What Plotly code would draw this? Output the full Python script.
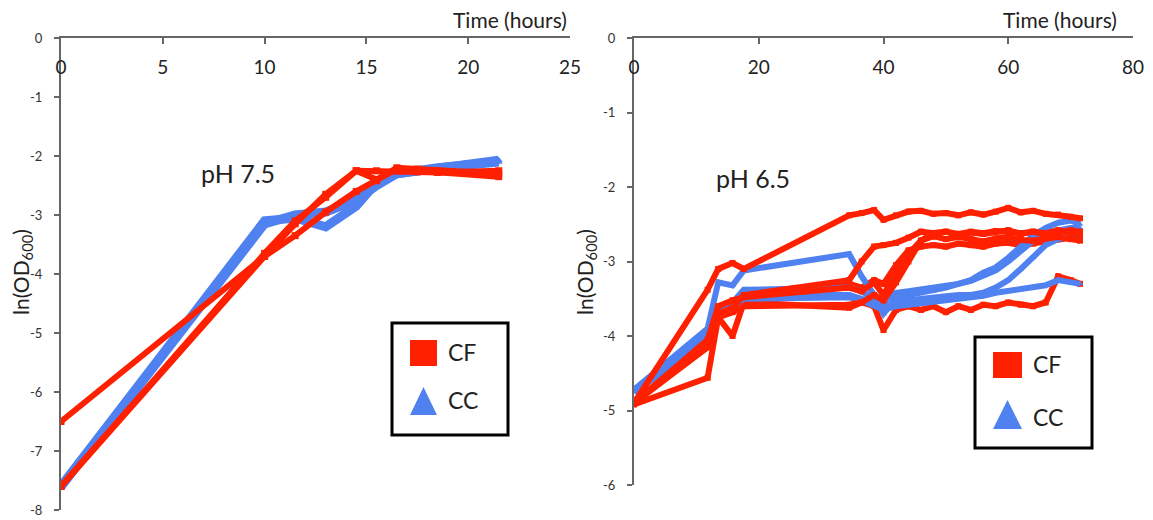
import plotly.graph_objects as go

# ---------------- data: pH 7.5 growth curves ----------------
ph75_hours = [0, 10, 11.5, 13, 14.5, 15.5, 16.5, 17.5, 18.5, 21.5]

ph75_cf_1 = [-6.50, -3.70, -3.15, -2.65, -2.25, -2.40, -2.20, -2.22, -2.25, -2.30]
ph75_cf_2 = [-7.60, -3.70, -3.35, -2.95, -2.60, -2.42, -2.22, -2.25, -2.28, -2.35]
ph75_cf_3 = [-7.60, -3.65, -3.10, -2.70, -2.25, -2.25, -2.25, -2.27, -2.28, -2.25]

ph75_cc_1 = [-7.60, -3.10, -3.05, -3.20, -2.85, -2.45, -2.30, -2.25, -2.20, -2.07]
ph75_cc_2 = [-7.60, -3.15, -3.00, -2.95, -2.75, -2.50, -2.30, -2.25, -2.20, -2.10]

# ---------------- data: pH 6.5 growth curves ----------------
ph65_hours = [0, 11.8, 13.5, 15.8, 17.6, 34.5, 36.5, 38.5, 40, 42, 44, 46, 48,
              50, 52, 54, 56, 58, 60, 62, 64, 66, 68, 70, 71.5]

ph65_cf_1 = [-4.90, -3.38, -3.10, -3.02, -3.10, -2.38, -2.35, -2.31, -2.44, -2.38, -2.33, -2.32, -2.36,
             -2.35, -2.38, -2.34, -2.37, -2.33, -2.28, -2.34, -2.32, -2.36, -2.37, -2.40, -2.42]
ph65_cf_2 = [-4.88, -4.15, -3.70, -3.62, -3.45, -3.25, -3.00, -2.80, -2.78, -2.75, -2.68, -2.60, -2.62,
             -2.60, -2.64, -2.61, -2.63, -2.60, -2.58, -2.63, -2.60, -2.64, -2.61, -2.58, -2.60]
ph65_cf_3 = [-4.90, -4.05, -3.60, -3.52, -3.48, -3.35, -3.40, -3.28, -3.45, -3.15, -2.90, -2.72, -2.66,
             -2.70, -2.67, -2.70, -2.73, -2.69, -2.67, -2.71, -2.72, -2.69, -2.67, -2.70, -2.72]
ph65_cf_4 = [-4.92, -4.56, -3.75, -3.68, -3.60, -3.58, -3.55, -3.45, -3.52, -3.28, -3.00, -2.72, -2.62,
             -2.60, -2.63, -2.60, -2.62, -2.59, -2.60, -2.62, -2.60, -2.62, -2.58, -2.62, -2.64]
ph65_cf_5 = [-4.90, -4.15, -3.75, -4.00, -3.55, -3.62, -3.55, -3.60, -3.92, -3.65, -3.60, -3.65, -3.60,
             -3.68, -3.60, -3.65, -3.58, -3.60, -3.55, -3.58, -3.60, -3.55, -3.20, -3.25, -3.30]
ph65_cf_6 = [-4.88, -4.10, -3.65, -3.55, -3.42, -3.30, -3.35, -3.25, -3.30, -3.05, -2.85, -2.80, -2.78,
             -2.80, -2.76, -2.78, -2.80, -2.76, -2.75, -2.78, -2.76, -2.74, -2.70, -2.68, -2.70]

ph65_cc_1 = [-4.72, -3.90, -3.28, -3.32, -3.12, -2.90, -3.20, -3.45, -3.70, -3.50, -3.45, -3.42, -3.40,
             -3.35, -3.30, -3.25, -3.15, -3.08, -2.95, -2.80, -2.65, -2.55, -2.48, -2.45, -2.50]
ph65_cc_2 = [-4.72, -4.00, -3.60, -3.55, -3.38, -3.35, -3.40, -3.50, -3.55, -3.42, -3.40, -3.38, -3.36,
             -3.33, -3.30, -3.26, -3.20, -3.12, -3.00, -2.85, -2.72, -2.62, -2.58, -2.55, -2.55]
ph65_cc_3 = [-4.75, -4.05, -3.65, -3.60, -3.45, -3.45, -3.50, -3.55, -3.62, -3.55, -3.52, -3.50, -3.48,
             -3.47, -3.45, -3.45, -3.42, -3.35, -3.25, -3.10, -2.95, -2.78, -2.70, -2.65, -2.68]
ph65_cc_4 = [-4.75, -4.08, -3.70, -3.62, -3.50, -3.48, -3.52, -3.60, -3.65, -3.60, -3.58, -3.56, -3.55,
             -3.52, -3.50, -3.48, -3.46, -3.42, -3.40, -3.38, -3.35, -3.32, -3.25, -3.28, -3.30]

# tick positions and labels (plain hyphen for negatives)
ph75_yticks = [0, -1, -2, -3, -4, -5, -6, -7, -8]
ph65_yticks = [0, -1, -2, -3, -4, -5, -6]
ph75_xticks = [0, 5, 10, 15, 20, 25]
ph65_xticks = [0, 20, 40, 60, 80]

panel_labels = ["pH 7.5", "pH 6.5"]
legend_names = ["CF", "CC"]

RED = "#FF2000"
BLUE = "#4F82F0"
AXIS = "#666666"
TEXT = "#222222"
FONT = "Lato"

W, H = 1153, 520


def px(x):
    return x / W


def py(y):
    return 1 - y / H


fig = go.Figure()


def add_curve(x, y, color, symbol, width, xa, ya, msize):
    fig.add_trace(go.Scatter(
        x=x, y=y, mode="lines+markers", xaxis=xa, yaxis=ya,
        line=dict(color=color, width=width),
        marker=dict(color=color, symbol=symbol, size=msize),
        showlegend=False, hoverinfo="skip"))


# left panel
for s in [ph75_cc_1, ph75_cc_2]:
    add_curve(ph75_hours, s, BLUE, "triangle-up", 9, "x", "y", 7)
for s in [ph75_cf_1, ph75_cf_2, ph75_cf_3]:
    add_curve(ph75_hours, s, RED, "square", 6, "x", "y", 7)

# right panel
for s in [ph65_cf_5, ph65_cf_6]:
    add_curve(ph65_hours, s, RED, "square", 6, "x2", "y2", 6)
for s in [ph65_cc_1, ph65_cc_2, ph65_cc_3, ph65_cc_4]:
    add_curve(ph65_hours, s, BLUE, "triangle-up", 6, "x2", "y2", 6)
for s in [ph65_cf_1, ph65_cf_2, ph65_cf_3, ph65_cf_4]:
    add_curve(ph65_hours, s, RED, "square", 6, "x2", "y2", 6)

xcommon = dict(side="top", showline=True, linecolor=AXIS, linewidth=2,
               ticks="inside", ticklen=6, tickwidth=2, tickcolor=AXIS,
               ticklabelposition="inside", ticklabeloverflow="allow",
               ticklabelstandoff=18,
               tickfont=dict(size=19, color=TEXT, family=FONT),
               showgrid=False, zeroline=False, automargin=False)
ycommon = dict(showline=True, linecolor=AXIS, linewidth=2,
               ticks="outside", ticklen=5, tickwidth=2, tickcolor=AXIS,
               tickfont=dict(size=13, color="#333333", family=FONT),
               ticklabelstandoff=9,
               showgrid=False, zeroline=False, automargin=False)


def labels(vals):
    return [str(v) for v in vals]


fig.update_layout(
    width=W, height=H,
    margin=dict(l=0, r=0, t=0, b=0),
    paper_bgcolor="white", plot_bgcolor="white",
    font=dict(family=FONT, color=TEXT),
    xaxis=dict(domain=[px(61), px(570)], range=[0, 25], anchor="y",
               tickvals=ph75_xticks, ticktext=labels(ph75_xticks), **xcommon),
    yaxis=dict(domain=[py(510), py(38)], range=[-8, 0], anchor="x",
               tickvals=ph75_yticks, ticktext=labels(ph75_yticks), **ycommon),
    xaxis2=dict(domain=[px(634), px(1133)], range=[0, 80], anchor="y2",
                tickvals=ph65_xticks, ticktext=labels(ph65_xticks), **xcommon),
    yaxis2=dict(domain=[py(485), py(38)], range=[-6, 0], anchor="x2",
                tickvals=ph65_yticks, ticktext=labels(ph65_yticks), **ycommon),
)

ann = []
# panel labels
ann.append(dict(x=px(238), y=py(173), text=panel_labels[0], font=dict(size=25)))
ann.append(dict(x=px(753), y=py(178), text=panel_labels[1], font=dict(size=25)))
# axis titles
for xr in [569, 1119]:
    ann.append(dict(x=px(xr), y=py(20), text="Time (hours)", xanchor="right",
                    font=dict(size=21)))
for xc in [22, 586]:
    ann.append(dict(x=px(xc), y=py(272), text="ln(OD<sub>600</sub>)", textangle=-90,
                    font=dict(size=21)))

shapes = []


def legend_box(x0, y0, x1, y1, sq, tri, tx, ty_cf, ty_cc, fs):
    shapes.append(dict(type="rect", xref="paper", yref="paper",
                       x0=px(x0), x1=px(x1), y0=py(y1), y1=py(y0),
                       line=dict(color="black", width=3), fillcolor="white"))
    sx0, sy0, sx1, sy1 = sq
    shapes.append(dict(type="rect", xref="paper", yref="paper",
                       x0=px(sx0), x1=px(sx1), y0=py(sy1), y1=py(sy0),
                       line=dict(width=0), fillcolor=RED))
    tx0, ty0, tx1, ty1 = tri
    path = "M {a},{b} L {c},{b} L {d},{e} Z".format(
        a=px(tx0), b=py(ty1), c=px(tx1), d=px((tx0 + tx1) / 2), e=py(ty0))
    shapes.append(dict(type="path", xref="paper", yref="paper", path=path,
                       line=dict(width=0), fillcolor=BLUE))
    ann.append(dict(x=px(tx), y=py(ty_cf), text=legend_names[0], xanchor="left",
                    font=dict(size=fs)))
    ann.append(dict(x=px(tx), y=py(ty_cc), text=legend_names[1], xanchor="left",
                    font=dict(size=fs)))


legend_box(392, 323, 508, 435, (410, 340, 437, 366), (410, 387, 437, 415), 446, 352, 400, 23)
legend_box(975, 337, 1092, 448, (993, 352, 1022, 378), (993, 400, 1022, 429), 1031, 364, 417, 23)

for a in ann:
    a.setdefault("xref", "paper")
    a.setdefault("yref", "paper")
    a.setdefault("showarrow", False)
    a.setdefault("xanchor", "center")
    a.setdefault("yanchor", "middle")
    a["font"] = dict(family=FONT, color=TEXT, **a["font"])

fig.update_layout(annotations=ann, shapes=shapes)

fig.write_html("out.html")
